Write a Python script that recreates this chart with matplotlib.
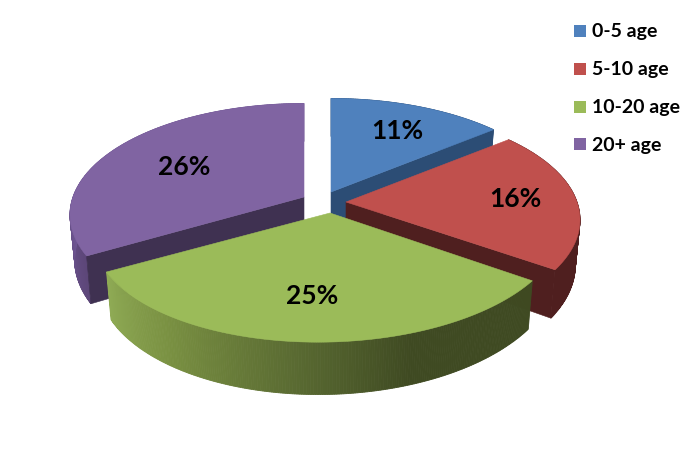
import numpy as np
import matplotlib.pyplot as plt
from matplotlib.colors import to_rgb

# data
categories = ["0-5 age", "5-10 age", "10-20 age", "20+ age"]
values = [11, 16, 25, 26]
pct_labels = ["11%", "16%", "25%", "26%"]

# colours
TOP = ["#4f81bd", "#c0504d", "#9bbb59", "#8064a2"]
CUT = ["#2c4d75", "#4f1f1f", "#3f4a22", "#3f3151"]
# outer wall colour stops: (angle from 12 o'clock, colour)
WALL = [
    [(0, "#2c4d75"), (60, "#2c4d75")],
    [(0, "#4f1f1f"), (130, "#4f1f1f")],
    [(124, "#3f4a22"), (160, "#3f4a22"), (185, "#5a6b32"), (215, "#7a9142"), (240, "#8fab55")],
    [(240, "#5c4678"), (270, "#6f5693"), (360, "#6f5693")],
]

# layout, in pixels of the 692x455 picture
APEX = [(331, 192), (346, 202), (330, 213), (304, 197)]
RIM_SHIFT = [0, 0, 12, 0]
Z_ORDER = [2, 3, 4, 1]
CUT_EDGE = [1, 1, None, 0]  # which radial face can be seen on each slice
LABEL_XY = [(397, 131), (515, 199), (312, 296), (184, 167)]
LEGEND_Y = [31, 69, 107, 144]
R0, RY, PERSP, HEIGHT, BASE_SHRINK = 231, 108.5, 0.16, 44, 0.98
FONT = ["Lato", "DejaVu Sans"]


def project(i, theta):
    # theta in degrees clockwise from the top; perspective makes the front bigger
    t = np.radians(theta)
    v = np.cos(t)
    s = 1 / (1 + PERSP * v)
    x = APEX[i][0] + R0 * np.sin(t) * s + RIM_SHIFT[i] * np.minimum(v, 0)
    y = APEX[i][1] - RY * v * s
    return x, y, HEIGHT * s


def wall_colour(stops, theta):
    angles = [a for a, _ in stops]
    cols = np.array([to_rgb(c) for _, c in stops])
    return [np.interp(theta, angles, cols[:, k]) for k in range(3)]


def draw_slice(ax, i, a0, a1):
    ax0, ay0 = APEX[i]
    z = Z_ORDER[i]
    th = np.linspace(a0, a1, int(a1 - a0) * 2 + 2)
    x, y, h = project(i, th)
    xb = ax0 + (x - ax0) * BASE_SHRINK
    yb = y + h

    # outer wall, cut in narrow strips for the shading
    for k in range(len(th) - 1):
        c = wall_colour(WALL[i], th[k])
        ax.fill([x[k], x[k + 1], xb[k + 1], xb[k]], [y[k], y[k + 1], yb[k + 1], yb[k]],
                color=c, lw=0.6, zorder=z)

    # radial cut face
    if CUT_EDGE[i] is not None:
        ex, ey, eh = project(i, (a0, a1)[CUT_EDGE[i]])
        ex_b = ax0 + (ex - ax0) * BASE_SHRINK
        ax.fill([ax0, ex, ex_b, ax0], [ay0, ey, ey + eh, ay0 + HEIGHT],
                color=CUT[i], lw=0.4, zorder=z + 0.2)

    # top face
    ax.fill(np.r_[ax0, x], np.r_[ay0, y], color=TOP[i], lw=0.4, zorder=z + 0.5)


fig = plt.figure(figsize=(6.92, 4.55), dpi=100)
ax = fig.add_axes([0, 0, 1, 1])
ax.set_xlim(0, 692)
ax.set_ylim(455, 0)
ax.axis("off")

edges = np.r_[0, np.cumsum(values)] / np.sum(values) * 360
for i in range(len(values)):
    draw_slice(ax, i, edges[i], edges[i + 1])

for (lx, ly), txt in zip(LABEL_XY, pct_labels):
    ax.text(lx, ly, txt, fontsize=19, fontweight="bold", family=FONT,
            ha="center", va="center", color="black", zorder=20)

for yc, name, col in zip(LEGEND_Y, categories, TOP):
    ax.fill([574, 586, 586, 574], [yc - 6, yc - 6, yc + 6, yc + 6], color=col, lw=0, zorder=20)
    ax.text(592, yc + 1, name, fontsize=14, fontweight="bold", family=FONT,
            ha="left", va="center", color="black", zorder=20)

fig.savefig("out.png", dpi=100)
